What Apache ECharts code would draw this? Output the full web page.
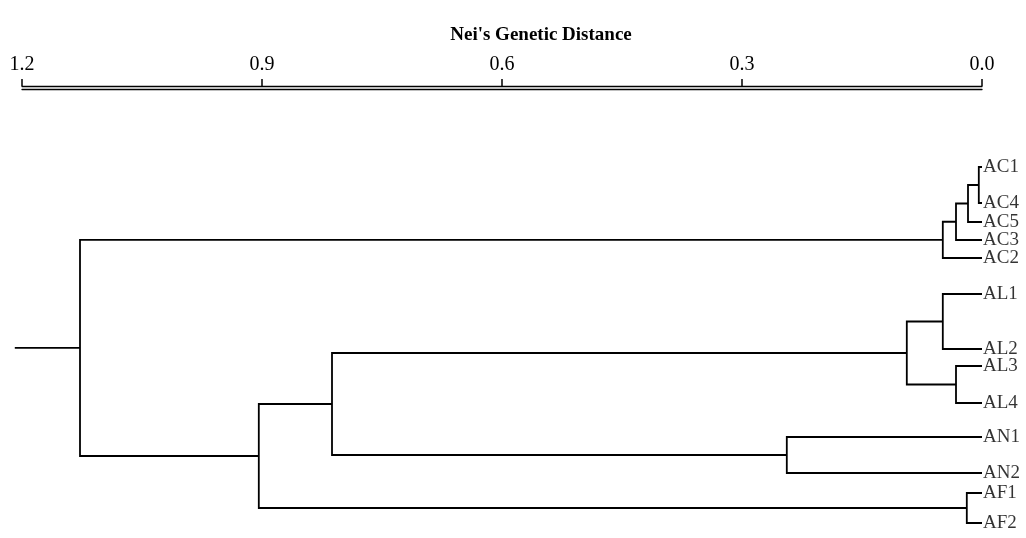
<!DOCTYPE html>
<html>
<head>
<meta charset="utf-8">
<script src="https://cdn.jsdelivr.net/npm/echarts@6/dist/echarts.min.js"></script>
<style>
  html, body { margin: 0; padding: 0; background: #fff; }
  #main { width: 1026px; height: 538px; }
</style>
</head>
<body>
<div id="main"></div>
<script>
// leaves, top to bottom, with their row position
var leafNames = ['AC1', 'AC4', 'AC5', 'AC3', 'AC2', 'AL1', 'AL2', 'AL3', 'AL4', 'AN1', 'AN2', 'AF1', 'AF2'];
var leafPos = [0, 36, 55, 73, 91, 127, 182, 199, 236, 270, 306, 326, 356];

// joins: [node, child a, child b, Nei's distance]
var merges = [
  ['ac14', 'AC1', 'AC4', 0.004],
  ['ac145', 'ac14', 'AC5', 0.0175],
  ['ac1453', 'ac145', 'AC3', 0.0325],
  ['AC', 'ac1453', 'AC2', 0.049],
  ['al12', 'AL1', 'AL2', 0.049],
  ['al34', 'AL3', 'AL4', 0.0325],
  ['AL', 'al12', 'al34', 0.094],
  ['AN', 'AN1', 'AN2', 0.244],
  ['ALAN', 'AL', 'AN', 0.8125],
  ['AF', 'AF1', 'AF2', 0.019],
  ['ALANAF', 'ALAN', 'AF', 0.904],
  ['root', 'AC', 'ALANAF', 1.1275]
];
var rootStub = 1.209;

var serif = 'Liberation Serif';
var chart = echarts.init(document.getElementById('main'));

// build the tree branches
var nodes = {};
leafNames.forEach(function (n, i) {
  nodes[n] = { h: 0, y: leafPos[i] };
});
var segs = [];
merges.forEach(function (m) {
  var A = nodes[m[1]], B = nodes[m[2]], h = m[3];
  segs.push({ coords: [[A.h, A.y], [h, A.y], [h, B.y], [B.h, B.y]] });
  nodes[m[0]] = { h: h, y: (A.y + B.y) / 2 };
});
var root = nodes['root'];
segs.push({ coords: [[root.h, root.y], [rootStub, root.y]] });

var leafData = leafNames.map(function (n, i) {
  return { name: n, value: [0, leafPos[i]] };
});

var xBase = {
  type: 'value',
  min: 0,
  max: 1.2,
  interval: 0.3,
  inverse: true
};

var option = {
  backgroundColor: '#fff',
  animation: false,
  title: {
    text: "Nei's Genetic Distance",
    left: 536,
    top: 21,
    textAlign: 'center',
    textStyle: { fontFamily: serif, fontWeight: 'bold', fontSize: 19, color: '#000' }
  },
  grid: [
    { left: 22, right: 44, top: 86, height: 3 },
    { left: 22, right: 44, top: 167, bottom: 15 }
  ],
  xAxis: [
    Object.assign({}, xBase, {
      gridIndex: 0,
      position: 'top',
      axisLine: { onZero: false, lineStyle: { color: '#000', width: 1.3 } },
      axisTick: { show: true, length: 7, lineStyle: { color: '#000', width: 1.5 } },
      axisLabel: {
        margin: 11,
        fontFamily: serif,
        fontSize: 20,
        color: '#000',
        formatter: function (v) { return v.toFixed(1); }
      },
      splitLine: { show: false }
    }),
    Object.assign({}, xBase, {
      gridIndex: 0,
      position: 'bottom',
      axisLine: { onZero: false, lineStyle: { color: '#000', width: 1.3 } },
      axisTick: { show: false },
      axisLabel: { show: false },
      splitLine: { show: false }
    }),
    Object.assign({}, xBase, { gridIndex: 1, show: false })
  ],
  yAxis: [
    { type: 'value', gridIndex: 0, show: false },
    { type: 'value', gridIndex: 1, show: false, inverse: true, min: 0, max: 356 }
  ],
  series: [
    {
      type: 'lines',
      coordinateSystem: 'cartesian2d',
      xAxisIndex: 2,
      yAxisIndex: 1,
      polyline: true,
      clip: false,
      silent: true,
      lineStyle: { color: '#000', width: 1.8, opacity: 1 },
      data: segs
    },
    {
      type: 'scatter',
      xAxisIndex: 2,
      yAxisIndex: 1,
      symbolSize: 0,
      silent: true,
      label: {
        show: true,
        position: 'right',
        distance: 1,
        formatter: '{b}',
        fontFamily: serif,
        fontSize: 19,
        color: '#000'
      },
      data: leafData
    }
  ]
};

chart.setOption(option);
</script>
</body>
</html>
